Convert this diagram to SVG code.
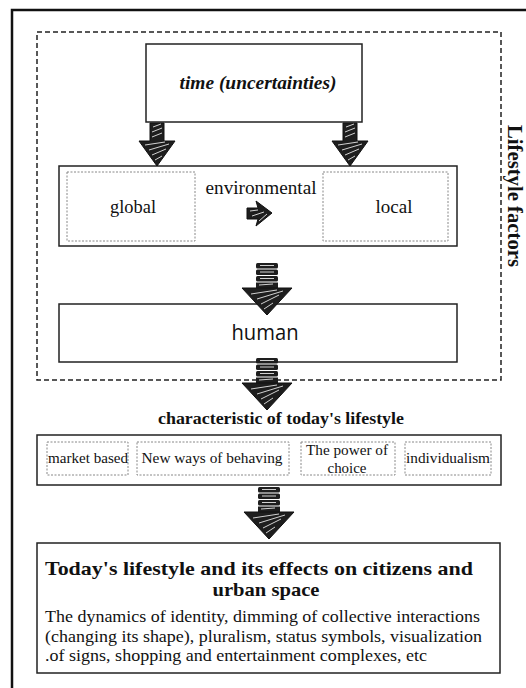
<svg xmlns="http://www.w3.org/2000/svg" width="526" height="688" viewBox="0 0 526 688">
<style>
.box{fill:#fff;stroke:#222;stroke-width:1.5}
.dbox{fill:none;stroke:#888;stroke-width:1;stroke-dasharray:2,1.5}
.serif{font-family:"Liberation Serif","Times New Roman",serif;fill:#111}
.hatch{stroke:#fff;stroke-width:0.8;fill:none}
</style>
<defs>
<g id="bigArrow">
<polygon points="-7,0 7,0 7,18 18,18 0,43 -18,18 -7,18" fill="#1e1e1e" stroke="#111" stroke-width="1"/>
<path class="hatch" d="M-4,4 L4,1 M-5,9 L5,5 M-5,14 L5,10 M-12,22 L8,19 M-8,27 L12,21 M-5,32 L9,26 M-2,37 L5,33"/>
</g>
<g id="stackArrow">
<rect x="-11" y="0" width="22" height="5.5" rx="1.5" fill="#1e1e1e"/>
<rect x="-11" y="6.5" width="22" height="5.5" rx="1.5" fill="#1e1e1e"/>
<rect x="-11" y="13" width="22" height="5.5" rx="1.5" fill="#1e1e1e"/>
<rect x="-11" y="19.5" width="22" height="6" fill="#1e1e1e"/>
<path class="hatch" d="M-7,2.5 L7,2.5 M-7,9 L7,9 M-7,15.5 L7,15.5"/>
<polygon points="-25,25 25,25 0,52" fill="#1e1e1e" stroke="#111" stroke-width="1"/>
<path class="hatch" d="M-8,22 L6,21 M-16,31 L10,27 M-10,36 L16,28 M-6,41 L12,32 M-3,46 L6,40"/>
</g>
</defs>

<!-- outer frame -->
<path d="M12,688 L12,10 L526,10" fill="none" stroke="#111" stroke-width="2.5"/>

<g id="lifestyle-factors">
<rect x="37" y="32" width="464" height="348" fill="none" stroke="#222" stroke-width="1.5" stroke-dasharray="5,3"/>
<text class="serif" font-weight="bold" font-size="20" text-anchor="middle" transform="translate(508,196) rotate(90)" textLength="142" lengthAdjust="spacingAndGlyphs">Lifestyle factors</text>
</g>

<g id="time">
<rect class="box" x="146" y="44" width="216" height="78"/>
<text class="serif" font-weight="bold" font-style="italic" font-size="18" x="258" y="89" text-anchor="middle" textLength="157" lengthAdjust="spacingAndGlyphs">time (uncertainties)</text>
</g>

<g id="environment">
<rect class="box" x="59" y="166" width="398" height="80"/>
<text class="serif" font-size="18" x="261" y="194" text-anchor="middle" textLength="111" lengthAdjust="spacingAndGlyphs">environmental</text>
</g>
<g id="global">
<rect class="dbox" x="67" y="172" width="128" height="69"/>
<text class="serif" font-size="18" x="133" y="213" text-anchor="middle" textLength="46" lengthAdjust="spacingAndGlyphs">global</text>
</g>
<g id="local">
<rect class="dbox" x="323" y="172" width="125" height="69"/>
<text class="serif" font-size="18" x="394" y="213" text-anchor="middle" textLength="37" lengthAdjust="spacingAndGlyphs">local</text>
</g>

<g id="human">
<rect class="box" x="59" y="304" width="398" height="58"/>
<text font-family="'Open Sans','Noto Sans',sans-serif" font-size="21" fill="#111" x="265" y="340" text-anchor="middle" textLength="67" lengthAdjust="spacingAndGlyphs">human</text>
</g>

<g id="characteristics">
<text class="serif" font-weight="bold" font-size="17" x="281" y="424" text-anchor="middle" textLength="246" lengthAdjust="spacingAndGlyphs">characteristic of today's lifestyle</text>
<rect class="box" x="37" y="435" width="464" height="50"/>
</g>
<g id="market-based">
<rect class="dbox" x="47" y="442" width="81" height="33"/>
<text class="serif" font-size="14.5" x="88" y="463" text-anchor="middle" textLength="80" lengthAdjust="spacingAndGlyphs">market based</text>
</g>
<g id="new-ways">
<rect class="dbox" x="137" y="442" width="152" height="33"/>
<text class="serif" font-size="14.5" x="212" y="463" text-anchor="middle" textLength="141" lengthAdjust="spacingAndGlyphs">New ways of behaving</text>
</g>
<g id="power-of-choice">
<rect class="dbox" x="301" y="442" width="94" height="33"/>
<text class="serif" font-size="14.5" x="347" y="455" text-anchor="middle" textLength="82" lengthAdjust="spacingAndGlyphs">The power of</text>
<text class="serif" font-size="14.5" x="347" y="473" text-anchor="middle" textLength="39" lengthAdjust="spacingAndGlyphs">choice</text>
</g>
<g id="individualism">
<rect class="dbox" x="405" y="442" width="86" height="33"/>
<text class="serif" font-size="14.5" x="448" y="463" text-anchor="middle" textLength="84" lengthAdjust="spacingAndGlyphs">individualism</text>
</g>

<g id="effects">
<rect class="box" x="37" y="543" width="463" height="130"/>
<text class="serif" font-weight="bold" font-size="19" x="259" y="575" text-anchor="middle" textLength="428" lengthAdjust="spacingAndGlyphs">Today's lifestyle and its effects on citizens and</text>
<text class="serif" font-weight="bold" font-size="19" x="266" y="596" text-anchor="middle" textLength="107" lengthAdjust="spacingAndGlyphs">urban space</text>
<text class="serif" font-size="17" x="45" y="622" textLength="435" lengthAdjust="spacingAndGlyphs">The dynamics of identity, dimming of collective interactions</text>
<text class="serif" font-size="17" x="45" y="642" textLength="437" lengthAdjust="spacingAndGlyphs">(changing its shape), pluralism, status symbols, visualization</text>
<text class="serif" font-size="17" x="45" y="661" textLength="382" lengthAdjust="spacingAndGlyphs">.of signs, shopping and entertainment complexes, etc</text>
</g>

<g id="connectors">
<use href="#bigArrow" x="157" y="123"/>
<use href="#bigArrow" x="350" y="123"/>
<g>
<polygon points="247,208 258,208 256,201 272,213 256,226 258,219 247,219" fill="#1e1e1e" stroke="#111" stroke-width="1"/>
<path class="hatch" d="M250,211 L258,210 M252,216 L264,212 M259,221 L267,214"/>
</g>
<use href="#stackArrow" x="267" y="263"/>
<use href="#stackArrow" x="267" y="358"/>
<use href="#stackArrow" x="269" y="487"/>
</g>
</svg>
